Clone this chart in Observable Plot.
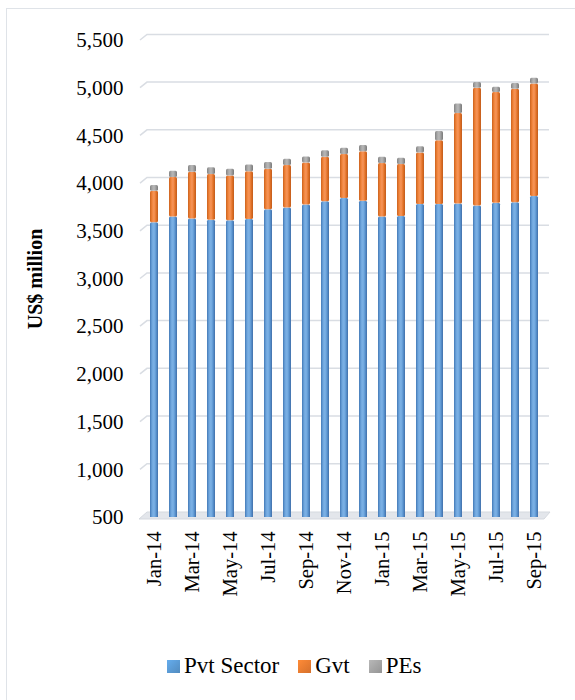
<!DOCTYPE html>
<html>
<head>
<meta charset="utf-8">
<script src="https://cdn.jsdelivr.net/npm/d3@7"></script>
<script src="https://cdn.jsdelivr.net/npm/@observablehq/plot@0.6"></script>
<style>
  html, body { margin: 0; padding: 0; background: #fff; overflow: hidden; width: 575px; height: 700px; }
  #frame { position: absolute; left: 6px; top: 8px; width: 640px; height: 760px; border: 1.5px solid #dfe3e8; box-sizing: border-box; }
  #chart { position: absolute; left: 0; top: 0; }
  #legend { position: absolute; left: 167px; top: 653px; display: flex; align-items: center;
            font-family: 'Liberation Serif', serif; font-size: 23px; color: #000; }
  #legend .item { display: flex; align-items: center; margin-right: 19px; }
  #legend .sw { width: 13px; height: 13px; margin-right: 4px; }
  #legend span { font-family: 'Liberation Serif', serif; }
</style>
</head>
<body>
<div id="frame"></div>
<div id="chart"></div>
<div id="legend"></div>
<script>
// Monthly external debt outstanding by borrower (US$ million)
const months = ["Jan-14","Feb-14","Mar-14","Apr-14","May-14","Jun-14","Jul-14","Aug-14","Sep-14","Oct-14","Nov-14","Dec-14",
                "Jan-15","Feb-15","Mar-15","Apr-15","May-15","Jun-15","Jul-15","Aug-15","Sep-15"];
const pvtSector = [3590, 3650, 3630, 3615, 3610, 3625, 3725, 3745, 3775, 3810, 3845, 3815,
                   3650, 3655, 3780, 3780, 3785, 3765, 3795, 3800, 3865];
const gvt       = [330, 415, 490, 480, 470, 500, 425, 445, 440, 465, 460, 520,
                   560, 545, 540, 670, 950, 1235, 1160, 1190, 1180];
const pes       = [60, 65, 70, 70, 70, 70, 70, 65, 65, 70, 65, 65,
                   65, 65, 65, 95, 100, 60, 55, 60, 60];

const seriesNames = ["Pvt Sector", "Gvt", "PEs"];
const seriesColors = ["#5b9bd5", "#ed7d31", "#a5a5a5"];
const yTicks = [500, 1000, 1500, 2000, 2500, 3000, 3500, 4000, 4500, 5000, 5500];
const xTickLabels = months.filter((d, i) => i % 2 === 0);

// long table for stacking
const seriesValues = [pvtSector, gvt, pes];
const rows = [];
months.forEach((m, i) => seriesNames.forEach((s, k) => rows.push({month: m, series: s, value: seriesValues[k][i]})));

// cylinder-like shading for each series
const shades = [
  ["g-pvt", ["#3a73b3", "#6fa6dd", "#7db2e6", "#5d97d2", "#3869a6"]],
  ["g-gvt", ["#c95a14", "#f0843a", "#f7955a", "#e5762b", "#bf5410"]],
  ["g-pes", ["#7d7d7d", "#a6a6a6", "#b8b8b8", "#9c9c9c", "#737373"]]
];
const defs = () => {
  const d = d3.create("svg:defs");
  shades.forEach(([id, stops]) => {
    const g = d.append("linearGradient").attr("id", id).attr("x1", 0).attr("x2", 1).attr("y1", 0).attr("y2", 0);
    stops.forEach((c, j) => g.append("stop").attr("offset", j / (stops.length - 1)).attr("stop-color", c));
  });
  return d.node();
};

const gridColor = "#d9dde3";
const depth = 7;   // offset of the back wall

// back-wall gridlines with the short slanted lead-in, and the floor
const wall = (index, scales, values, dims) => {
  const g = d3.create("svg:g");
  const x0 = dims.marginLeft, x1 = dims.width - dims.marginRight;
  yTicks.slice(1).forEach(t => {
    const y = scales.y(t);
    g.append("path")
      .attr("d", `M${x0 + 2},${y} L${x0 + 2 + depth},${y - depth * 0.8} L${x1},${y - depth * 0.8}`)
      .attr("fill", "none").attr("stroke", gridColor).attr("stroke-width", 1.5);
  });
  const yb = scales.y(yTicks[0]);
  g.append("path")
    .attr("d", `M${x0 + 1},${yb + 2} L${x0 + 2 + depth},${yb - 5} L${x1 + 1},${yb - 5} L${x1 - 5},${yb + 2} Z`)
    .attr("fill", "#e3e6eb").attr("stroke", "#d5d9df").attr("stroke-width", 1);
  return g.node();
};

const plot = Plot.plot({
  width: 575,
  height: 620,
  marginLeft: 138,
  marginRight: 26,
  marginTop: 40,
  marginBottom: 103,
  style: {fontFamily: "'Liberation Serif', 'Times New Roman', serif", fontSize: "21px", color: "#000", background: "transparent"},
  x: {domain: months, padding: 0.58},
  y: {domain: [500, 5500]},
  color: {domain: seriesNames, range: shades.map(([id]) => `url(#${id})`)},
  marks: [
    defs,
    wall,
    Plot.barY(rows, Plot.stackY({
      x: "month", y: "value", fill: "series", order: seriesNames, clip: true, rx: 1.5,
      stroke: "#ffffff", strokeOpacity: 0.15, strokeWidth: 0.5
    })),
    Plot.axisY(yTicks, {tickSize: 0, tickPadding: 15, tickFormat: d3.format(","), fontSize: 21, label: null}),
    Plot.axisX(xTickLabels, {tickSize: 0, tickPadding: 14, tickRotate: -90, fontSize: 20.5, label: null}),
    Plot.text(["US$ million"], {frameAnchor: "left", textAnchor: "middle", dx: -103, dy: 0, rotate: -90, fontWeight: "bold", fontSize: 20})
  ]
});
document.getElementById("chart").appendChild(plot);

// legend
const legend = d3.select("#legend");
seriesNames.forEach((name, k) => {
  const item = legend.append("div").attr("class", "item");
  item.append("div").attr("class", "sw")
    .style("background", `linear-gradient(to bottom right, ${d3.color(seriesColors[k]).brighter(0.3)}, ${d3.color(seriesColors[k]).darker(0.3)})`);
  item.append("span").text(name);
});
</script>
</body>
</html>
